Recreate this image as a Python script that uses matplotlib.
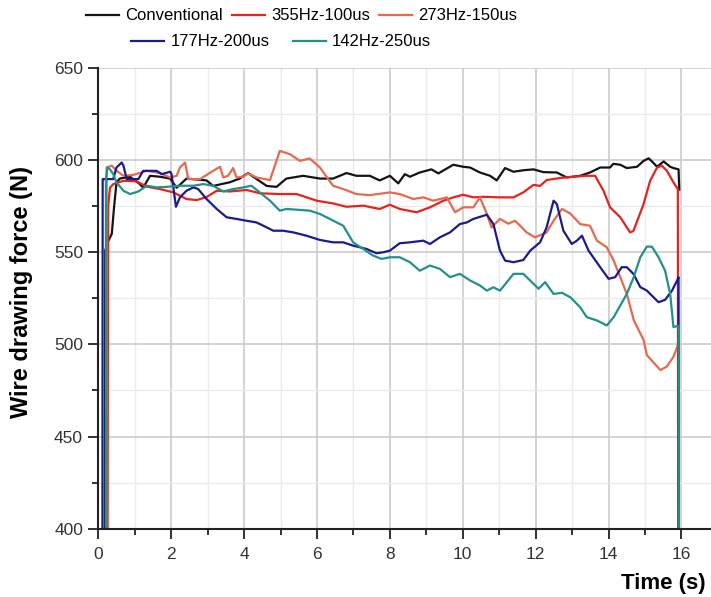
import matplotlib
matplotlib.use("Agg")
import matplotlib.pyplot as plt
from matplotlib.lines import Line2D
from matplotlib.ticker import MultipleLocator

# wire drawing force vs time
conv_t = [0.0, 0.15, 0.19, 0.27, 0.37, 0.43, 0.5, 0.59, 0.87, 1.14,
          1.23, 1.42, 1.69, 1.97, 2.15, 2.42, 2.97, 3.15, 3.61, 3.88,
          4.11, 4.25, 4.62, 4.89, 5.16, 5.62, 6.08, 6.44, 6.81, 7.08,
          7.45, 7.72, 8.0, 8.23, 8.41, 8.55, 8.82, 9.14, 9.33, 9.74,
          10.01, 10.2, 10.47, 10.75, 10.93, 11.16, 11.39, 11.66, 11.94, 12.21,
          12.58, 12.85, 13.22, 13.49, 13.77, 14.04, 14.13, 14.32, 14.5, 14.78,
          14.96, 15.1, 15.23, 15.33, 15.51, 15.69, 15.78, 15.92, 15.94]
conv_f = [0, 0, 551, 556, 560, 574, 588, 590, 591, 587,
          585, 591.5, 591, 590, 585, 590, 589, 586, 588, 590,
          593, 591, 586, 585.5, 590, 591.5, 590, 590, 593, 591.5,
          591.5, 589, 591.5, 587.4, 592.4, 591, 593.3, 595, 592.8, 597.5,
          596.4, 596, 593.3, 591.5, 589, 595.7, 593.7, 594.5, 595, 593.5,
          593.3, 590.6, 591.5, 593.3, 596, 596, 598, 597.5, 595.7, 596.4,
          599.6, 601, 598.5, 596.4, 599.3, 596.4, 595.7, 595, 584]

hz355_t = [0.0, 0.22, 0.27, 0.32, 0.41, 0.69, 1.05, 1.33, 1.69, 2.06,
           2.42, 2.7, 2.97, 3.25, 3.61, 4.07, 4.43, 4.98, 5.44, 5.99,
           6.44, 6.81, 7.27, 7.72, 8.0, 8.27, 8.73, 9.1, 9.47, 9.74,
           10.01, 10.29, 10.56, 11.02, 11.39, 11.66, 11.94, 12.12, 12.3, 12.67,
           13.04, 13.4, 13.63, 13.86, 14.04, 14.32, 14.59, 14.68, 14.96, 15.14,
           15.33, 15.46, 15.6, 15.78, 15.9, 15.93]
hz355_f = [0, 0, 575, 585, 587, 588.8, 588.5, 585.6, 584.3, 582.5,
           578.9, 578.3, 580, 583.4, 583, 583.8, 582, 581.6, 581.6, 578,
           576.5, 574.7, 575.3, 573.5, 575.8, 573.5, 571.7, 574.4, 578, 579.8,
           581.2, 579.8, 580.1, 579.8, 579.8, 582.5, 586.6, 586, 589.2, 590.3,
           591, 591.5, 591.5, 583.4, 574.4, 569, 560.8, 561.5, 576.2, 588.8,
           596, 597, 594.2, 587.9, 584.3, 0]

hz273_t = [0.0, 0.2, 0.23, 0.37, 0.5, 0.69, 0.96, 1.33, 1.69, 1.97,
           2.15, 2.24, 2.38, 2.47, 2.79, 3.15, 3.34, 3.43, 3.56, 3.7,
           3.79, 3.98, 4.11, 4.34, 4.71, 4.98, 5.26, 5.53, 5.8, 6.08,
           6.44, 6.72, 7.08, 7.45, 7.82, 8.0, 8.27, 8.64, 8.92, 9.19,
           9.56, 9.79, 10.01, 10.29, 10.47, 10.66, 10.79, 11.02, 11.25, 11.43,
           11.57, 11.75, 11.98, 12.3, 12.49, 12.72, 12.95, 13.22, 13.49, 13.68,
           13.95, 14.14, 14.32, 14.5, 14.69, 14.96, 15.05, 15.42, 15.6, 15.78,
           15.92]
hz273_f = [0, 0, 596, 597, 594.2, 591.5, 592, 594.2, 593, 590.6,
           591.5, 596, 598.7, 589.7, 589.7, 594.2, 596.4, 590.6, 591.5, 595.7,
           590.6, 591, 592.8, 590.6, 589.2, 605, 603.2, 599.6, 600.9, 596,
           586.1, 584.3, 581.6, 581, 582, 582.5, 581.6, 578.9, 579.8, 578,
           579.8, 571.7, 574.4, 574.4, 579.8, 570.8, 563.5, 568.1, 565.5, 567.1,
           564.5, 560.8, 558.1, 560.8, 567.1, 573.5, 571, 565.3, 564.4, 556.3,
           552.7, 545.5, 536.5, 527.4, 513.2, 502.4, 494.2, 486.1, 488, 493.3,
           500.6]

hz177_t = [0.0, 0.1, 0.12, 0.41, 0.5, 0.64, 0.69, 0.78, 1.1, 1.23,
           1.6, 1.74, 1.97, 2.01, 2.13, 2.24, 2.42, 2.61, 2.74, 2.97,
           3.25, 3.52, 3.79, 4.07, 4.34, 4.62, 4.8, 5.07, 5.35, 5.71,
           6.08, 6.44, 6.72, 6.99, 7.36, 7.63, 7.82, 8.0, 8.27, 8.55,
           8.92, 9.1, 9.37, 9.65, 9.92, 10.11, 10.29, 10.66, 10.84, 11.02,
           11.16, 11.39, 11.66, 11.85, 12.12, 12.3, 12.49, 12.58, 12.76, 12.99,
           13.13, 13.27, 13.45, 13.77, 14.0, 14.18, 14.36, 14.5, 14.68, 14.87,
           15.05, 15.37, 15.55, 15.74, 15.88, 15.92, 15.94]
hz177_f = [0, 0, 589.7, 589.7, 596, 598.7, 597, 589.7, 589.7, 594.2,
           594.2, 592.4, 593.7, 592.4, 574.7, 579.8, 583.4, 585.2, 584.3, 578.9,
           573.5, 569, 568.1, 567.1, 566.2, 563.5, 561.7, 561.7, 560.8, 559,
           556.7, 555.4, 555.4, 553.6, 551.8, 549.5, 550, 550.9, 554.9, 555.4,
           556.3, 554.5, 558.1, 560.8, 565.3, 566.2, 568.1, 570.4, 565.3, 550.9,
           545.5, 544.6, 545.8, 550.9, 555.4, 563.5, 578, 576.2, 561.7, 554.5,
           556.3, 559, 550.9, 541.9, 535.6, 536.5, 541.9, 541.9, 538.3, 531.1,
           529.2, 522.9, 524.2, 529.2, 534.7, 536.5, 0]

hz142_t = [0.0, 0.2, 0.21, 0.25, 0.32, 0.41, 0.5, 0.69, 0.87, 1.1,
           1.33, 1.6, 1.87, 2.24, 2.61, 2.88, 3.15, 3.43, 3.7, 3.98,
           4.2, 4.43, 4.71, 4.98, 5.16, 5.44, 5.8, 6.08, 6.35, 6.72,
           6.99, 7.27, 7.54, 7.77, 8.0, 8.27, 8.55, 8.82, 9.1, 9.37,
           9.65, 9.92, 10.2, 10.47, 10.66, 10.84, 11.02, 11.21, 11.39, 11.66,
           11.94, 12.08, 12.26, 12.49, 12.72, 12.95, 13.22, 13.4, 13.68, 13.95,
           14.14, 14.32, 14.5, 14.69, 14.87, 15.05, 15.19, 15.37, 15.55, 15.69,
           15.78, 15.88, 15.92, 15.94]
hz142_f = [0, 0, 590, 596, 595, 592.4, 587.9, 583.4, 581.6, 583,
           586.1, 585.2, 585.5, 586.1, 586.1, 587, 586.1, 583, 584.3, 585.2,
           586.1, 582.5, 578, 572.6, 573.5, 573.1, 572.6, 570.8, 568.1, 564.4,
           555.4, 551.8, 548.2, 546.4, 547.3, 547.3, 544.6, 540, 542.8, 541,
           536.5, 538.3, 534.7, 532, 529.2, 531, 529.2, 533.8, 538.3, 538.3,
           532.9, 530.2, 533.8, 527.4, 528, 525.6, 520.2, 514.8, 513, 510.3,
           514.8, 521.1, 527.4, 536.5, 547.3, 553.1, 553, 547.3, 540, 527.4,
           509.4, 510, 510, 0]

labels = ["Conventional", "355Hz-100us", "273Hz-150us", "177Hz-200us", "142Hz-250us"]
colors = ["#141414", "#e8231f", "#e8694f", "#1b1b8c", "#23918a"]

plt.rcParams["font.family"] = ["Liberation Sans", "DejaVu Sans"]

W, H = 711, 597
fig = plt.figure(figsize=(W / 100, H / 100), dpi=100)
x0, x1, ytop, ybot = 98.3, 711, 68.0, 528.7
ax = fig.add_axes([x0 / W, 1 - ybot / H, (x1 - x0) / W, (ybot - ytop) / H])

series = [(conv_t, conv_f), (hz355_t, hz355_f), (hz273_t, hz273_f),
          (hz177_t, hz177_f), (hz142_t, hz142_f)]
for (t, f), c in zip(series, colors):
    ax.plot(t, f, color=c, lw=1.6, solid_joinstyle="round")

ax.set_xlim(0, 16.81)
ax.set_ylim(400, 650)
ax.xaxis.set_major_locator(MultipleLocator(2))
ax.xaxis.set_minor_locator(MultipleLocator(1))
ax.yaxis.set_major_locator(MultipleLocator(50))
ax.yaxis.set_minor_locator(MultipleLocator(25))

ax.set_axisbelow(True)
ax.grid(which="major", color="#cccccc", lw=1.2)
ax.grid(which="minor", color="#ebebeb", lw=1.0)

for s in ["top", "right"]:
    ax.spines[s].set_visible(False)
for s in ["left", "bottom"]:
    ax.spines[s].set_linewidth(1.5)
    ax.spines[s].set_color("#222222")

ax.tick_params(which="major", direction="out", length=7, width=1.3,
               labelsize=12.5, pad=4, color="#222222", labelcolor="#333333")
ax.tick_params(which="minor", direction="out", length=4.5, width=1.3,
               color="#222222")
ax.tick_params(axis="x", which="major", pad=6)

ax.set_ylabel("Wire drawing force (N)", fontsize=17, fontweight="bold")
ax.yaxis.set_label_coords((33 - x0) / (x1 - x0), (ybot - 292) / (ybot - ytop))
fig.text(706 / W, 1 - 583 / H, "Time (s)", ha="right", va="center",
         fontsize=16, fontweight="bold")

handles = [Line2D([], [], color=c, lw=1.6) for c in colors]
fig.legend(handles[:3], labels[:3], loc="center", ncol=3, frameon=False,
           bbox_to_anchor=(301.5 / W, 1 - 16 / H), fontsize=12,
           handlelength=2.0, handletextpad=0.35, columnspacing=0.55,
           borderpad=0, borderaxespad=0)
fig.legend(handles[3:], labels[3:], loc="center", ncol=2, frameon=False,
           bbox_to_anchor=(281 / W, 1 - 42 / H), fontsize=12,
           handlelength=2.0, handletextpad=0.35, columnspacing=1.4,
           borderpad=0, borderaxespad=0)

fig.savefig("out.png", dpi=100)
